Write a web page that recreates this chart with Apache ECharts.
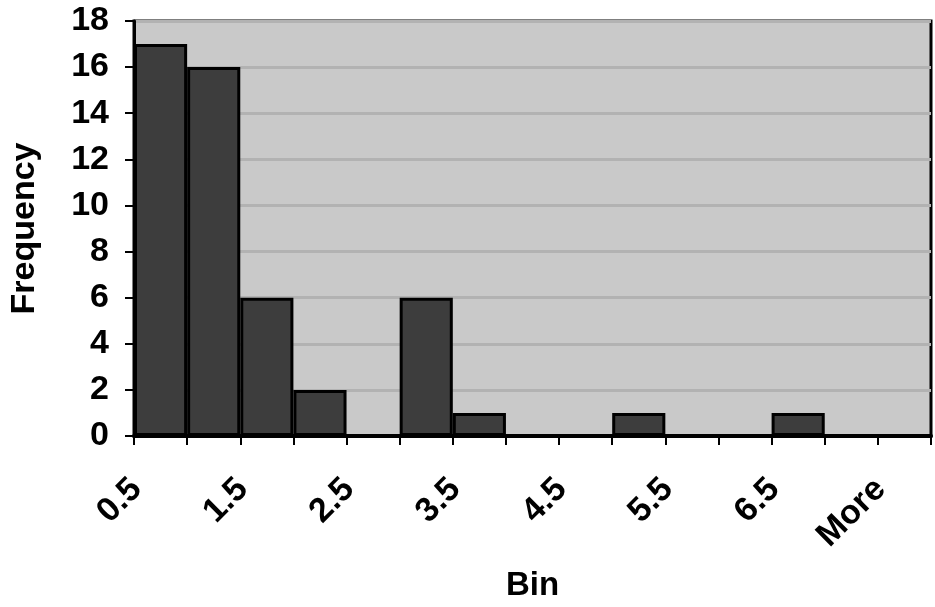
<!DOCTYPE html>
<html>
<head>
<meta charset="utf-8">
<script src="https://cdn.jsdelivr.net/npm/echarts@6/dist/echarts.min.js"></script>
<style>
  html, body { margin: 0; padding: 0; background: #ffffff; }
  #chart { width: 935px; height: 607px; }
</style>
</head>
<body>
<div id="chart"></div>
<script>
const bins = ['0.5', '1', '1.5', '2', '2.5', '3', '3.5', '4', '4.5', '5', '5.5', '6', '6.5', '7', 'More'];
const frequency = [17, 16, 6, 2, 0, 6, 1, 0, 0, 1, 0, 0, 1, 0, 0];
const yTicks = { min: 0, max: 18, interval: 2 };
const xTitle = 'Bin';
const yTitle = 'Frequency';

const FONT = '"Liberation Sans", Arial, sans-serif';
const chart = echarts.init(document.getElementById('chart'), null, { renderer: 'canvas' });

chart.setOption({
  animation: false,
  backgroundColor: '#ffffff',
  grid: {
    left: 127, right: 4, top: 21, bottom: 170,
    show: true,
    backgroundColor: '#c9c9c9',
    borderColor: '#000000',
    borderWidth: 3
  },
  xAxis: {
    type: 'category',
    data: bins,
    boundaryGap: true,
    name: xTitle,
    nameLocation: 'middle',
    nameGap: 133,
    nameTextStyle: { fontFamily: FONT, fontWeight: 'bold', fontSize: 33, color: '#000' },
    axisLine: { show: true, lineStyle: { color: '#000', width: 4 } },
    axisTick: { show: true, interval: 0, alignWithLabel: false, length: 9, lineStyle: { color: '#000', width: 2 } },
    axisLabel: {
      interval: 1,
      rotate: 45,
      margin: 24,
      padding: [0, 34, 0, 0],
      fontFamily: FONT, fontWeight: 'bold', fontSize: 34, color: '#000'
    },
    splitLine: { show: false }
  },
  yAxis: {
    type: 'value',
    min: yTicks.min, max: yTicks.max, interval: yTicks.interval,
    name: yTitle,
    nameLocation: 'middle',
    nameRotate: 90,
    nameGap: 92,
    nameTextStyle: { fontFamily: FONT, fontWeight: 'bold', fontSize: 34, color: '#000' },
    axisLine: { show: true, lineStyle: { color: '#000', width: 3 } },
    axisTick: { show: true, length: 9, lineStyle: { color: '#000', width: 2 } },
    axisLabel: { margin: 25, fontFamily: FONT, fontWeight: 'bold', fontSize: 34, color: '#000' },
    splitLine: { show: true, lineStyle: { color: '#b2b2b2', width: 3 } }
  },
  series: [{
    type: 'bar',
    data: frequency,
    barCategoryGap: '0%',
    itemStyle: { color: '#3d3d3d', borderColor: '#000000', borderWidth: 3 }
  }]
});
</script>
</body>
</html>
